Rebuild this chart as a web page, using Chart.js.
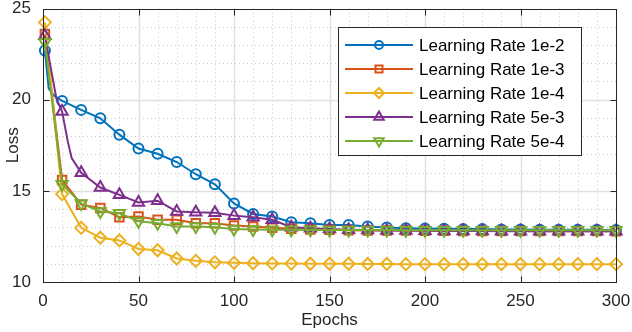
<!DOCTYPE html>
<html>
<head>
<meta charset="utf-8">
<script src="https://cdn.jsdelivr.net/npm/chart.js@4"></script>
<style>
  html, body { margin: 0; padding: 0; background: #fff; }
  #wrap { width: 632px; height: 332px; }
</style>
</head>
<body>
<div id="wrap"><canvas id="loss-chart" width="632" height="332"></canvas></div>
<script>
// epochs where markers are drawn
const epochs = [1, 10, 20, 30, 40, 50, 60, 70, 80, 90, 100, 110, 120, 130, 140, 150,
                160, 170, 180, 190, 200, 210, 220, 230, 240, 250, 260, 270, 280, 290, 300];

const loss1e2 = [22.7, 19.93, 19.44, 18.98, 18.08, 17.32, 17.03, 16.58, 15.91, 15.36, 14.31,
                 13.73, 13.59, 13.28, 13.22, 13.13, 13.13, 13.04, 12.99, 12.95, 12.93, 12.92,
                 12.9, 12.9, 12.88, 12.88, 12.87, 12.87, 12.86, 12.86, 12.85];
const loss1e3 = [23.6, 15.6, 14.24, 14.06, 13.55, 13.59, 13.41, 13.41, 13.22, 13.22, 13.1,
                 13.05, 12.98, 12.92, 12.88, 12.86, 12.84, 12.83, 12.82, 12.82, 12.81, 12.81,
                 12.8, 12.8, 12.8, 12.8, 12.79, 12.79, 12.79, 12.79, 12.78];
const loss1e4 = [24.24, 14.82, 12.97, 12.43, 12.28, 11.81, 11.74, 11.29, 11.16, 11.08, 11.05,
                 11.03, 11.02, 11.01, 11.0, 11.0, 11.0, 10.99, 10.99, 10.98, 10.98, 10.98,
                 10.98, 10.98, 10.98, 10.98, 10.98, 10.98, 10.98, 10.98, 10.98];
const loss5e3 = [23.5, 19.35, 15.99, 15.18, 14.78, 14.36, 14.46, 13.87, 13.82, 13.8, 13.64,
                 13.55, 13.41, 13.0, 12.95, 12.9, 12.87, 12.85, 12.83, 12.82, 12.81, 12.8,
                 12.8, 12.8, 12.79, 12.79, 12.79, 12.78, 12.78, 12.78, 12.78];
const loss5e4 = [23.15, 15.36, 14.31, 13.87, 13.77, 13.33, 13.22, 13.04, 13.04, 13.0, 12.9,
                 12.88, 12.87, 12.86, 12.86, 12.85, 12.85, 12.85, 12.85, 12.84, 12.84, 12.84,
                 12.84, 12.84, 12.84, 12.84, 12.84, 12.84, 12.84, 12.84, 12.84];

const early1e2Epochs = [3, 6];
const early1e2Loss   = [20.6, 20.2];
const early5e3Epochs = [7, 13, 15];
const early5e3Loss   = [20.07, 17.7, 16.8];

const xTicks = [0, 50, 100, 150, 200, 250, 300];
const yTicks = [10, 15, 20, 25];

const labels = ['Learning Rate 1e-2', 'Learning Rate 1e-3', 'Learning Rate 1e-4',
                'Learning Rate 5e-3', 'Learning Rate 5e-4'];
const colors = ['#0072BD', '#D95319', '#EDB120', '#7E2F8E', '#77AC30'];
const styles = [
  { pointStyle: 'circle',   radius: 5,   rotation: 0 },
  { pointStyle: 'rect',     radius: 6,   rotation: 0 },
  { pointStyle: 'rectRot',  radius: 6,   rotation: 0 },
  { pointStyle: 'triangle', radius: 6.5, rotation: 0 },
  { pointStyle: 'triangle', radius: 6.5, rotation: 180 }
];

function buildPoints(es, ls, extraE, extraL) {
  var pts = es.map(function(e, i) { return { x: e, y: ls[i], m: true }; });
  (extraE || []).forEach(function(e, i) { pts.push({ x: e, y: extraL[i], m: false }); });
  pts.sort(function(a, b) { return a.x - b.x; });
  return pts;
}

const series = [
  buildPoints(epochs, loss1e2, early1e2Epochs, early1e2Loss),
  buildPoints(epochs, loss1e3),
  buildPoints(epochs, loss1e4),
  buildPoints(epochs, loss5e3, early5e3Epochs, early5e3Loss),
  buildPoints(epochs, loss5e4)
];

const FONT = '"Liberation Sans", Arial, Helvetica, sans-serif';
const AXIS = '#262626';

var matlabAxes = {
  id: 'matlabAxes',
  beforeDatasetsDraw: function(chart) {
    var ctx = chart.ctx, a = chart.chartArea, xs = chart.scales.x, ys = chart.scales.y;
    function seg(x1, y1, x2, y2) { ctx.beginPath(); ctx.moveTo(x1, y1); ctx.lineTo(x2, y2); ctx.stroke(); }
    ctx.save();
    ctx.lineWidth = 1;
    // minor dotted grid
    ctx.strokeStyle = '#c9c9c9';
    ctx.setLineDash([1, 3]);
    for (var v = 10; v < 300; v += 10) {
      if (v % 50 === 0) continue;
      var px = Math.round(xs.getPixelForValue(v)) + 0.5;
      seg(px, a.top, px, a.bottom);
    }
    for (var w = 11; w < 25; w++) {
      if (w % 5 === 0) continue;
      var py = Math.round(ys.getPixelForValue(w)) + 0.5;
      seg(a.left, py, a.right, py);
    }
    // major solid grid
    ctx.setLineDash([]);
    ctx.strokeStyle = '#e0e0e0';
    ctx.lineWidth = 1.5;
    xTicks.forEach(function(t) {
      if (t === 0 || t === 300) return;
      var px = Math.round(xs.getPixelForValue(t)) + 0.5;
      seg(px, a.top, px, a.bottom);
    });
    yTicks.forEach(function(t) {
      if (t === 10 || t === 25) return;
      var py = Math.round(ys.getPixelForValue(t)) + 0.5;
      seg(a.left, py, a.right, py);
    });
    ctx.restore();
  },
  afterDraw: function(chart) {
    var ctx = chart.ctx, a = chart.chartArea, xs = chart.scales.x, ys = chart.scales.y;
    function seg(x1, y1, x2, y2) { ctx.beginPath(); ctx.moveTo(x1, y1); ctx.lineTo(x2, y2); ctx.stroke(); }
    ctx.save();
    ctx.strokeStyle = AXIS;
    ctx.lineWidth = 1;
    var L = Math.round(a.left) + 0.5, R = Math.round(a.right) + 0.5;
    var T = Math.round(a.top) + 0.5, B = Math.round(a.bottom) + 0.5;
    ctx.strokeRect(L, T, R - L, B - T);
    // inward ticks
    xTicks.forEach(function(t) {
      var px = Math.round(xs.getPixelForValue(t)) + 0.5;
      seg(px, B, px, B - 6);
      seg(px, T, px, T + 6);
    });
    yTicks.forEach(function(t) {
      var py = Math.round(ys.getPixelForValue(t)) + 0.5;
      seg(L, py, L + 6, py);
      seg(R, py, R - 6, py);
    });

    // legend box
    var bx = 338.5, by = 27.5, bw = 243, bh = 128;
    ctx.fillStyle = '#fff';
    ctx.fillRect(bx, by, bw, bh);
    ctx.strokeStyle = AXIS;
    ctx.strokeRect(bx, by, bw, bh);
    ctx.font = '17px ' + FONT;
    ctx.textBaseline = 'middle';
    ctx.textAlign = 'left';
    labels.forEach(function(lab, i) {
      var y = 45 + i * 24;
      ctx.strokeStyle = colors[i];
      ctx.lineWidth = 2;
      seg(345, y, 413, y);
      ctx.fillStyle = 'rgba(0,0,0,0)';
      var st = styles[i];
      Chart.helpers.drawPoint(ctx, {
        pointStyle: st.pointStyle,
        radius: st.radius - 1,
        rotation: st.rotation,
        borderWidth: 2
      }, 379, y);
      ctx.fillStyle = '#000';
      ctx.fillText(lab, 419, y + 1);
    });
    ctx.restore();
  }
};

Chart.defaults.font.family = FONT;
Chart.defaults.color = AXIS;

var datasets = series.map(function(pts, i) {
  return {
    label: labels[i],
    data: pts,
    borderColor: colors[i],
    backgroundColor: colors[i],
    borderWidth: 2,
    tension: 0,
    pointStyle: styles[i].pointStyle,
    rotation: styles[i].rotation,
    pointRadius: pts.map(function(p) { return p.m ? styles[i].radius : 0; }),
    pointBorderColor: colors[i],
    pointBackgroundColor: 'rgba(0,0,0,0)',
    pointBorderWidth: 2,
    clip: false,
    order: 5 - i
  };
});

new Chart(document.getElementById('loss-chart'), {
  type: 'line',
  data: { datasets: datasets },
  options: {
    responsive: false,
    animation: false,
    parsing: true,
    layout: { padding: { top: 6, right: 16, left: 0, bottom: 0 } },
    plugins: {
      legend: { display: false },
      tooltip: { enabled: false }
    },
    scales: {
      x: {
        type: 'linear',
        min: 0, max: 300,
        grid: { display: false },
        border: { display: false },
        afterBuildTicks: function(s) { s.ticks = xTicks.map(function(v) { return { value: v }; }); },
        ticks: { color: AXIS, font: { size: 17 }, padding: 1, maxRotation: 0 },
        title: { display: true, text: 'Epochs', color: AXIS, font: { size: 17 }, padding: { top: 0, bottom: 1 } },
        afterFit: function(s) { s.height = 50; s.paddingLeft = 0; s.paddingRight = 0; }
      },
      y: {
        min: 10, max: 25,
        grid: { display: false },
        border: { display: false },
        afterBuildTicks: function(s) { s.ticks = yTicks.map(function(v) { return { value: v }; }); },
        ticks: { color: AXIS, font: { size: 17 }, padding: 4 },
        title: { display: true, text: 'Loss', color: AXIS, font: { size: 17 }, padding: { top: 3, bottom: 0 } },
        afterFit: function(s) { s.width = 43; s.paddingTop = 0; s.paddingBottom = 0; }
      }
    }
  },
  plugins: [matlabAxes]
});
</script>
</body>
</html>
